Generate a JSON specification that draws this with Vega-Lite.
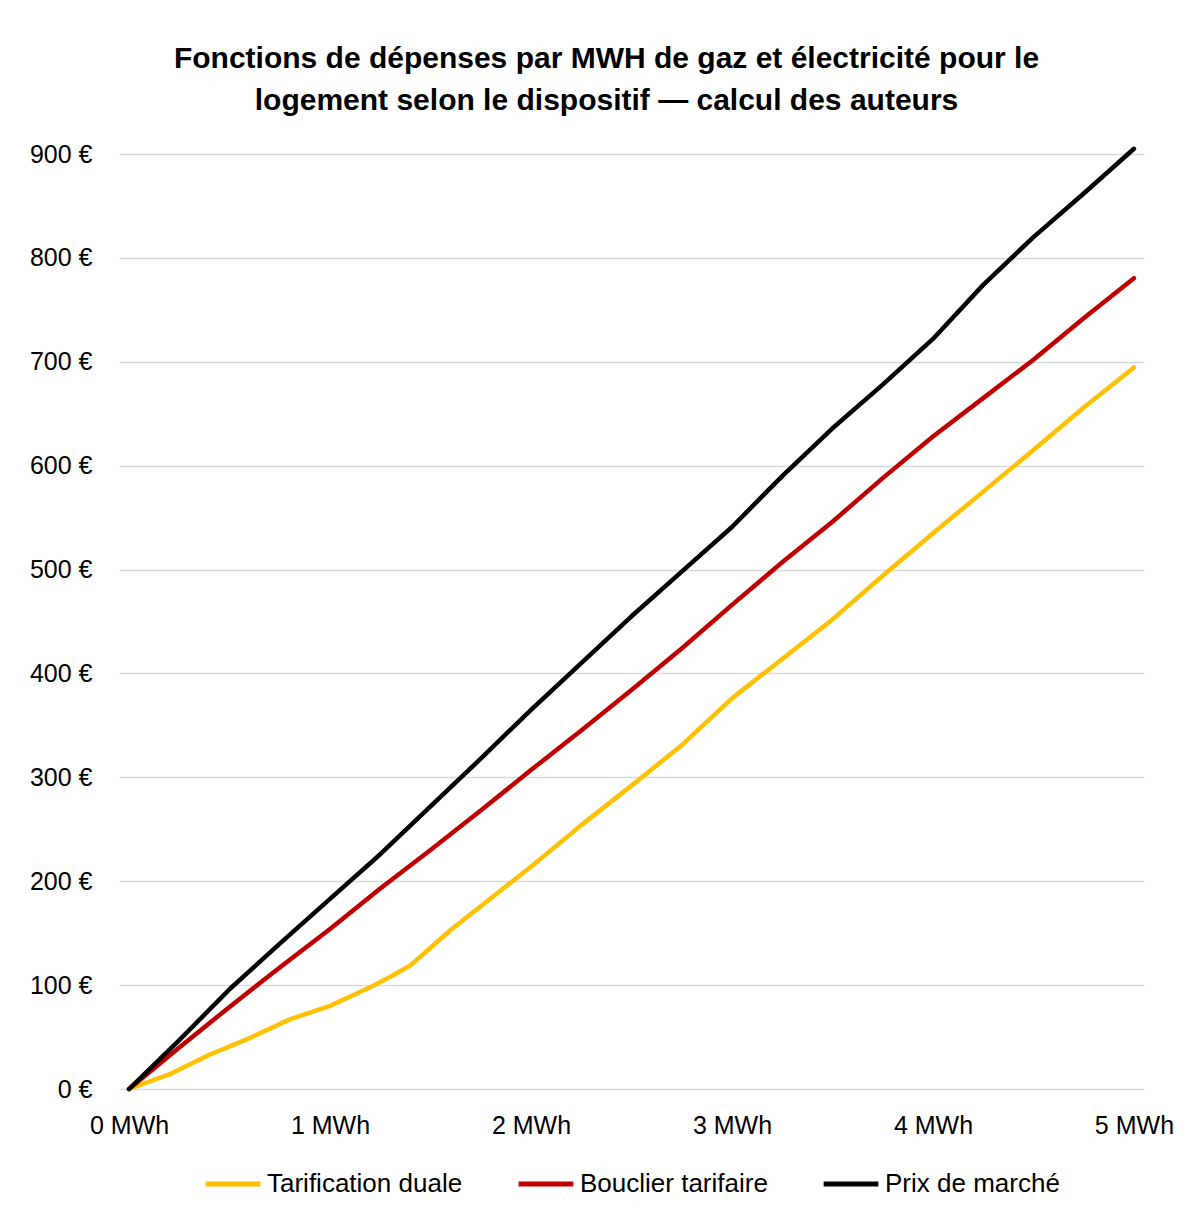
{
  "$schema": "https://vega.github.io/schema/vega-lite/v6.json",
  "width": 1025,
  "height": 935,
  "padding": {"left": 8, "top": 44, "right": 40, "bottom": 10},
  "background": "white",
  "title": {
    "text": ["Fonctions de dépenses par MWH de gaz et électricité pour le", "logement selon le dispositif — calcul des auteurs"],
    "font": "Liberation Sans",
    "fontSize": 30,
    "fontWeight": "bold",
    "lineHeight": 42,
    "color": "#000000",
    "anchor": "middle",
    "dx": -25,
    "offset": 26
  },
  "data": {
    "values": [
      {"s": "Tarification duale", "x": 0, "y": 0},
      {"s": "Tarification duale", "x": 0.2, "y": 14},
      {"s": "Tarification duale", "x": 0.4, "y": 33},
      {"s": "Tarification duale", "x": 0.6, "y": 49},
      {"s": "Tarification duale", "x": 0.8, "y": 67},
      {"s": "Tarification duale", "x": 1.0, "y": 80},
      {"s": "Tarification duale", "x": 1.2, "y": 98},
      {"s": "Tarification duale", "x": 1.3, "y": 108},
      {"s": "Tarification duale", "x": 1.4, "y": 119},
      {"s": "Tarification duale", "x": 1.5, "y": 136},
      {"s": "Tarification duale", "x": 1.6, "y": 153},
      {"s": "Tarification duale", "x": 1.75, "y": 176},
      {"s": "Tarification duale", "x": 2.0, "y": 214},
      {"s": "Tarification duale", "x": 2.25, "y": 254},
      {"s": "Tarification duale", "x": 2.5, "y": 292},
      {"s": "Tarification duale", "x": 2.75, "y": 331},
      {"s": "Tarification duale", "x": 3.0, "y": 376},
      {"s": "Tarification duale", "x": 3.25, "y": 414},
      {"s": "Tarification duale", "x": 3.5, "y": 452},
      {"s": "Tarification duale", "x": 3.75, "y": 494},
      {"s": "Tarification duale", "x": 4.0, "y": 535},
      {"s": "Tarification duale", "x": 4.25, "y": 575},
      {"s": "Tarification duale", "x": 4.5, "y": 615},
      {"s": "Tarification duale", "x": 4.75, "y": 656},
      {"s": "Tarification duale", "x": 5.0, "y": 694.5},
      {"s": "Bouclier tarifaire", "x": 0, "y": 0},
      {"s": "Bouclier tarifaire", "x": 0.25, "y": 40},
      {"s": "Bouclier tarifaire", "x": 0.5, "y": 79},
      {"s": "Bouclier tarifaire", "x": 0.75, "y": 117},
      {"s": "Bouclier tarifaire", "x": 1.0, "y": 154},
      {"s": "Bouclier tarifaire", "x": 1.25, "y": 193},
      {"s": "Bouclier tarifaire", "x": 1.5, "y": 230},
      {"s": "Bouclier tarifaire", "x": 1.75, "y": 268},
      {"s": "Bouclier tarifaire", "x": 2.0, "y": 307},
      {"s": "Bouclier tarifaire", "x": 2.25, "y": 345},
      {"s": "Bouclier tarifaire", "x": 2.5, "y": 384},
      {"s": "Bouclier tarifaire", "x": 2.75, "y": 424},
      {"s": "Bouclier tarifaire", "x": 3.0, "y": 466},
      {"s": "Bouclier tarifaire", "x": 3.25, "y": 507},
      {"s": "Bouclier tarifaire", "x": 3.5, "y": 546},
      {"s": "Bouclier tarifaire", "x": 3.75, "y": 588},
      {"s": "Bouclier tarifaire", "x": 4.0, "y": 628},
      {"s": "Bouclier tarifaire", "x": 4.25, "y": 665},
      {"s": "Bouclier tarifaire", "x": 4.5, "y": 702},
      {"s": "Bouclier tarifaire", "x": 4.75, "y": 742},
      {"s": "Bouclier tarifaire", "x": 5.0, "y": 780.5},
      {"s": "Prix de marché", "x": 0, "y": 0},
      {"s": "Prix de marché", "x": 0.25, "y": 47},
      {"s": "Prix de marché", "x": 0.5, "y": 96},
      {"s": "Prix de marché", "x": 0.75, "y": 140},
      {"s": "Prix de marché", "x": 1.0, "y": 183},
      {"s": "Prix de marché", "x": 1.25, "y": 226},
      {"s": "Prix de marché", "x": 1.5, "y": 272},
      {"s": "Prix de marché", "x": 1.75, "y": 318},
      {"s": "Prix de marché", "x": 2.0, "y": 365},
      {"s": "Prix de marché", "x": 2.25, "y": 410},
      {"s": "Prix de marché", "x": 2.5, "y": 455},
      {"s": "Prix de marché", "x": 2.75, "y": 498},
      {"s": "Prix de marché", "x": 3.0, "y": 541},
      {"s": "Prix de marché", "x": 3.25, "y": 590},
      {"s": "Prix de marché", "x": 3.5, "y": 636},
      {"s": "Prix de marché", "x": 3.75, "y": 678},
      {"s": "Prix de marché", "x": 4.0, "y": 722},
      {"s": "Prix de marché", "x": 4.25, "y": 774},
      {"s": "Prix de marché", "x": 4.5, "y": 820},
      {"s": "Prix de marché", "x": 4.75, "y": 862},
      {"s": "Prix de marché", "x": 5.0, "y": 905}
    ]
  },
  "mark": {"type": "line", "strokeWidth": 4.5, "strokeCap": "round", "strokeJoin": "round", "clip": false},
  "encoding": {
    "x": {
      "field": "x",
      "type": "quantitative",
      "scale": {"domain": [-0.05, 5.05], "nice": false, "zero": false},
      "axis": {
        "values": [0, 1, 2, 3, 4, 5],
        "labelExpr": "datum.value + ' MWh'",
        "title": null,
        "grid": false,
        "domain": false,
        "ticks": false,
        "labelFont": "Liberation Sans",
        "labelFontSize": 25,
        "labelColor": "#000000",
        "labelPadding": 24,
        "labelFlush": false
      }
    },
    "y": {
      "field": "y",
      "type": "quantitative",
      "scale": {"domain": [0, 900], "nice": false},
      "axis": {
        "values": [0, 100, 200, 300, 400, 500, 600, 700, 800, 900],
        "labelExpr": "datum.value + ' €'",
        "title": null,
        "grid": true,
        "gridColor": "#d9d9d9",
        "gridWidth": 1.5,
        "domain": false,
        "ticks": false,
        "labelFont": "Liberation Sans",
        "labelFontSize": 25,
        "labelColor": "#000000",
        "labelPadding": 27,
        "minExtent": 111,
        "maxExtent": 111
      }
    },
    "color": {
      "field": "s",
      "type": "nominal",
      "sort": ["Tarification duale", "Bouclier tarifaire", "Prix de marché"],
      "scale": {
        "domain": ["Tarification duale", "Bouclier tarifaire", "Prix de marché"],
        "range": ["#FFC000", "#C00000", "#000000"]
      },
      "legend": {
        "orient": "bottom",
        "direction": "horizontal",
        "title": null,
        "symbolType": "stroke",
        "symbolStrokeWidth": 5,
        "symbolSize": 3000,
        "labelFont": "Liberation Sans",
        "labelFontSize": 26,
        "labelColor": "#000000",
        "labelOffset": 4,
        "columnPadding": 45,
        "offset": 16,
        "labelLimit": 400
      }
    }
  },
  "config": {
    "view": {"stroke": null},
    "legend": {"layout": {"bottom": {"anchor": "middle"}}}
  }
}
